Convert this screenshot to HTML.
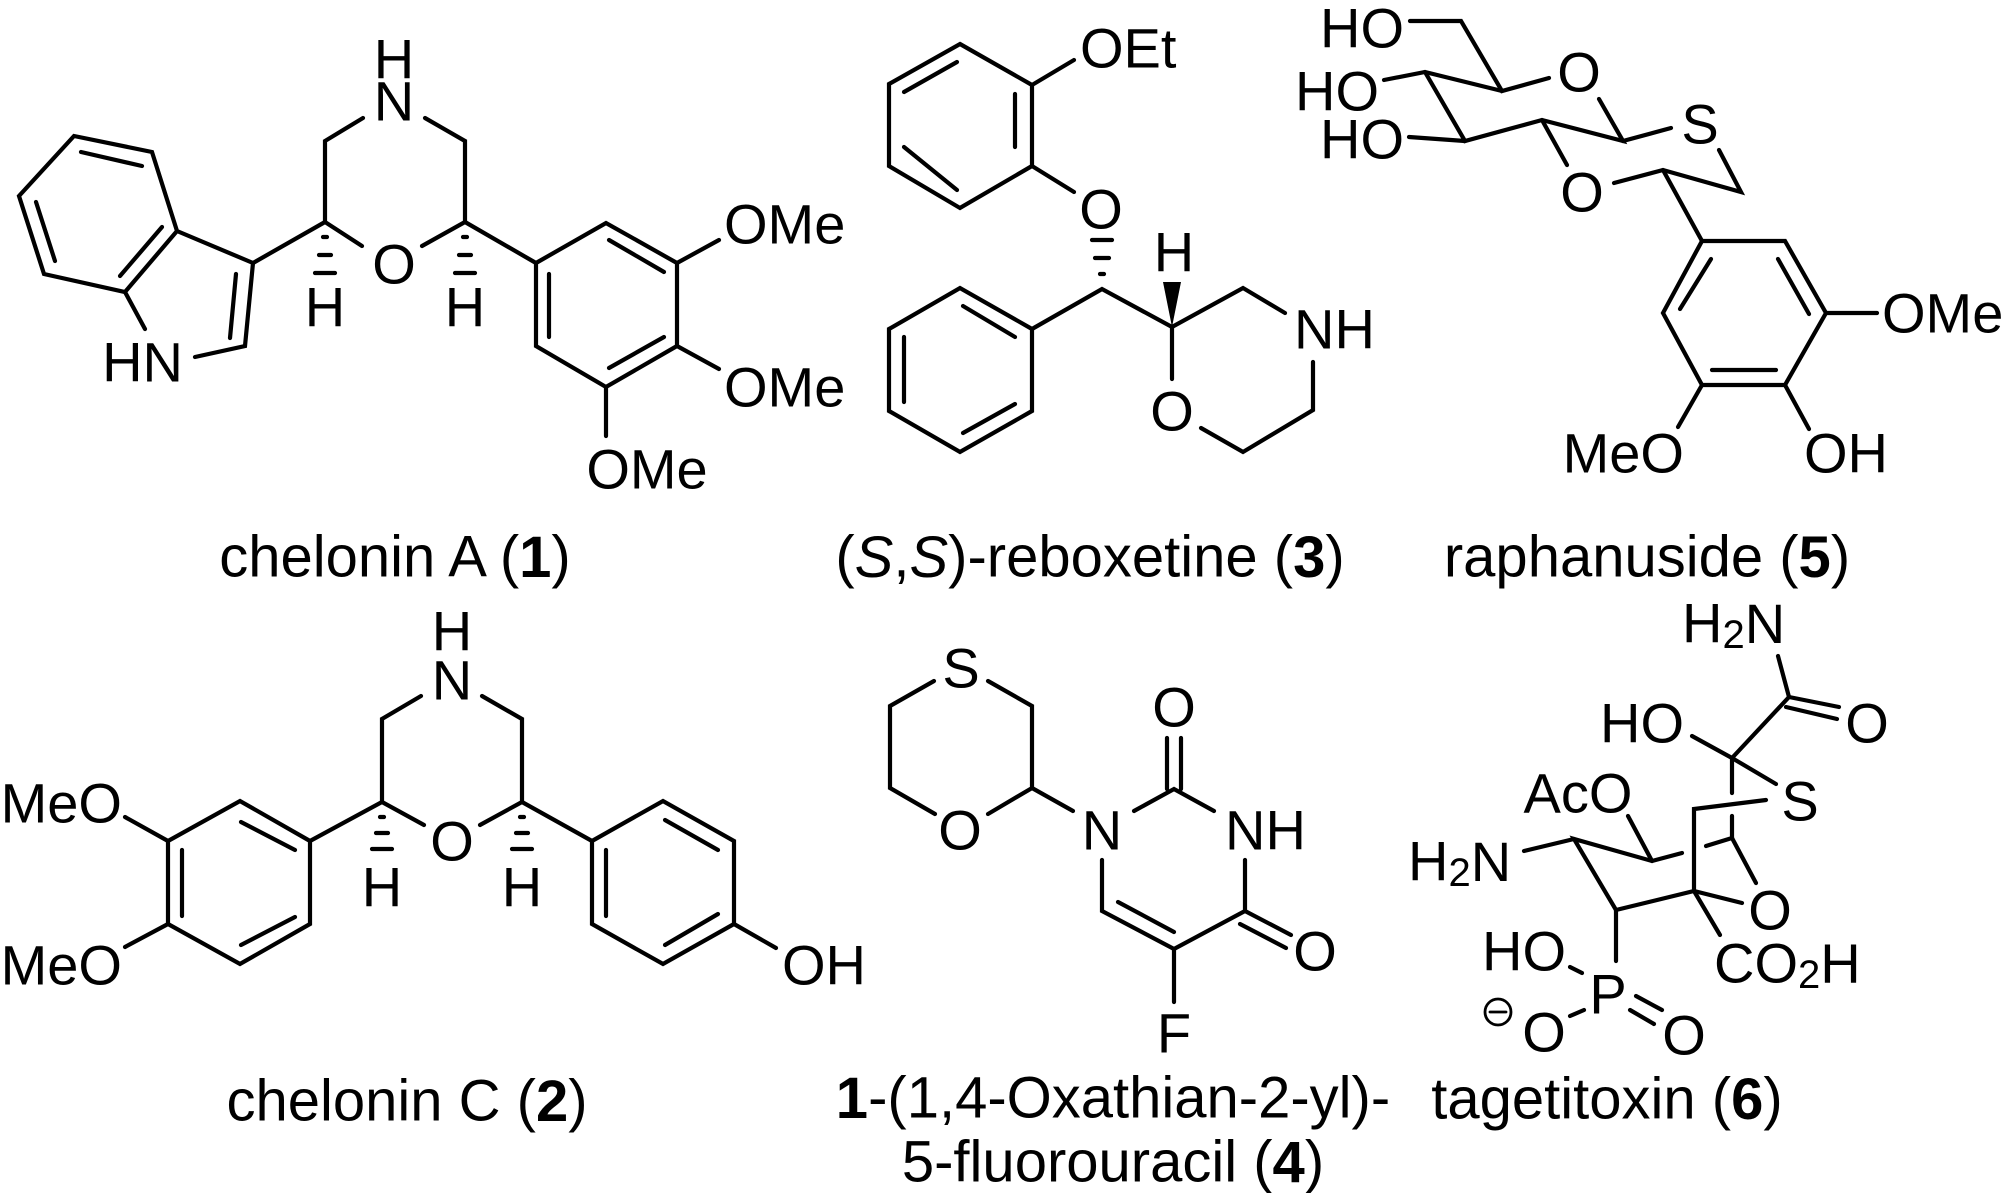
<!DOCTYPE html>
<html><head><meta charset="utf-8"><style>
html,body{margin:0;padding:0;background:#fff;}
svg{display:block;}
text{font-family:"Liberation Sans",Arial,sans-serif;fill:#000;}
.a{font-size:56px;}
.l{font-size:58px;}
</style></head><body>
<svg width="2008" height="1193" viewBox="0 0 2008 1193" xmlns="http://www.w3.org/2000/svg">
<g stroke="#000" stroke-width="4.2" fill="none" stroke-linecap="round">
<!-- Mol 1 -->
<polyline points="363,118 325,141 325,222 362,246"/>
<polyline points="422,246 465,222 465,141 425,118"/>
<line x1="325" y1="222" x2="253" y2="263"/>
<polyline points="195,357 245,346 253,263 177,231 152,152 74,136 19,196 44,274 125,292 177,231"/>
<line x1="125" y1="292" x2="145" y2="329"/>
<line x1="236" y1="274" x2="230" y2="338"/>
<line x1="120" y1="276" x2="162" y2="227"/>
<line x1="142" y1="166" x2="81" y2="152"/>
<line x1="36" y1="202" x2="55" y2="261"/>
<line x1="465" y1="222" x2="536" y2="263"/>
<polygon points="536,263 606,223 677,263 677,346 606,387 536,346"/>
<line x1="609" y1="240" x2="664" y2="272"/>
<line x1="664" y1="337" x2="609" y2="368"/>
<line x1="549" y1="274" x2="549" y2="337"/>
<line x1="677" y1="263" x2="719" y2="240"/>
<line x1="677" y1="346" x2="719" y2="369"/>
<line x1="606" y1="387" x2="606" y2="436"/>
<line x1="323" y1="237" x2="327" y2="237"/><line x1="319" y1="255" x2="331" y2="255"/><line x1="315" y1="273" x2="335" y2="273"/>
<line x1="463" y1="237" x2="467" y2="237"/><line x1="459" y1="255" x2="471" y2="255"/><line x1="455" y1="273" x2="475" y2="273"/>
<!-- Mol 3 -->
<polygon points="960,44 1032,85 1032,166 960,208 889,166 889,84"/>
<line x1="904" y1="92" x2="957" y2="62"/>
<line x1="1015" y1="94" x2="1015" y2="147"/>
<line x1="904" y1="147" x2="957" y2="190"/>
<line x1="1032" y1="85" x2="1074" y2="60"/>
<line x1="1032" y1="166" x2="1074" y2="192"/>
<line x1="1092" y1="240" x2="1112" y2="240"/><line x1="1095" y1="258" x2="1109" y2="258"/><line x1="1100" y1="274" x2="1104" y2="274"/>
<polyline points="1032,329 1102,289 1172,327 1243,288 1285,313"/>
<polygon points="1032,329 960,288 889,329 889,411 960,452 1032,411"/>
<line x1="963" y1="306" x2="1015" y2="337"/>
<line x1="904" y1="337" x2="904" y2="402"/>
<line x1="963" y1="433" x2="1015" y2="404"/>
<polyline points="1313,362 1313,410 1243,452 1201,428"/>
<line x1="1172" y1="327" x2="1172" y2="379"/>
<!-- Mol 5 -->
<polyline points="1410,21 1461,21 1502,91 1549,78"/>
<polyline points="1384,80 1425,72 1502,91"/>
<polyline points="1425,72 1465,141 1542,120 1623,141 1599,99"/>
<line x1="1409" y1="137" x2="1465" y2="141"/>
<line x1="1542" y1="120" x2="1567" y2="165"/>
<line x1="1623" y1="141" x2="1671" y2="128"/>
<polyline points="1719,150 1741,192 1663,170 1614,183"/>
<line x1="1663" y1="170" x2="1702" y2="241"/>
<polygon points="1702,241 1785,241 1826,313 1785,385 1702,385 1663,313"/>
<line x1="1778" y1="259" x2="1809" y2="314"/>
<line x1="1712" y1="370" x2="1776" y2="370"/>
<line x1="1680" y1="309" x2="1711" y2="259"/>
<line x1="1826" y1="313" x2="1877" y2="313"/>
<line x1="1785" y1="385" x2="1809" y2="429"/>
<line x1="1702" y1="385" x2="1678" y2="427"/>
<!-- Mol 2 -->
<polyline points="421,696 382,719 382,802 424,825"/>
<polyline points="480,825 522,802 522,719 482,696"/>
<line x1="380" y1="817" x2="384" y2="817"/><line x1="376" y1="833" x2="388" y2="833"/><line x1="372" y1="849" x2="392" y2="849"/>
<line x1="520" y1="817" x2="524" y2="817"/><line x1="516" y1="833" x2="528" y2="833"/><line x1="512" y1="849" x2="532" y2="849"/>
<line x1="382" y1="802" x2="310" y2="841"/>
<polygon points="310,841 240,801 168,841 168,924 240,964 310,924"/>
<line x1="241" y1="822" x2="295" y2="850"/>
<line x1="182" y1="850" x2="182" y2="916"/>
<line x1="241" y1="945" x2="295" y2="917"/>
<line x1="168" y1="841" x2="125" y2="817"/>
<line x1="168" y1="924" x2="125" y2="947"/>
<line x1="522" y1="802" x2="592" y2="841"/>
<polygon points="592,841 663,801 734,841 734,924 663,964 592,924"/>
<line x1="665" y1="820" x2="718" y2="850"/>
<line x1="718" y1="914" x2="665" y2="945"/>
<line x1="606" y1="850" x2="606" y2="916"/>
<line x1="734" y1="924" x2="776" y2="948"/>
<!-- Mol 4 -->
<polyline points="934,681 890,706 890,788 935,814"/>
<polyline points="988,814 1032,788 1032,706 988,681"/>
<line x1="1032" y1="788" x2="1073" y2="811"/>
<polyline points="1134,811 1174,789 1214,811"/>
<line x1="1167" y1="789" x2="1167" y2="738"/>
<line x1="1181" y1="789" x2="1181" y2="738"/>
<polyline points="1245,860 1245,911 1174,949 1102,911 1102,860"/>
<line x1="1118" y1="902" x2="1174" y2="932"/>
<line x1="1245" y1="911" x2="1291" y2="935"/>
<line x1="1240" y1="924" x2="1286" y2="948"/>
<line x1="1174" y1="949" x2="1174" y2="1002"/>
<!-- Mol 6 -->
<line x1="1778" y1="656" x2="1789" y2="697"/>
<line x1="1789" y1="697" x2="1839" y2="707"/>
<line x1="1786" y1="707" x2="1837" y2="719"/>
<line x1="1789" y1="697" x2="1732" y2="758"/>
<line x1="1692" y1="736" x2="1732" y2="758"/>
<line x1="1732" y1="758" x2="1776" y2="784"/>
<line x1="1732" y1="758" x2="1732" y2="793"/>
<polyline points="1766,800 1694,809 1694,891"/>
<line x1="1732" y1="816" x2="1732" y2="838"/>
<line x1="1732" y1="838" x2="1706" y2="846"/>
<line x1="1732" y1="838" x2="1756" y2="883"/>
<line x1="1742" y1="903" x2="1694" y2="891"/>
<line x1="1694" y1="891" x2="1720" y2="935"/>
<polyline points="1694,891 1616,910 1574,839 1652,861 1682,853"/>
<line x1="1574" y1="839" x2="1524" y2="851"/>
<line x1="1652" y1="861" x2="1628" y2="816"/>
<line x1="1616" y1="910" x2="1616" y2="961"/>
<line x1="1570" y1="967" x2="1582" y2="973"/>
<line x1="1570" y1="1016" x2="1584" y2="1010"/>
<line x1="1636" y1="996" x2="1662" y2="1010"/>
<line x1="1630" y1="1010" x2="1654" y2="1024"/>
<circle cx="1498" cy="1012" r="13" stroke-width="2.8"/>
<line x1="1490" y1="1012" x2="1506" y2="1012" stroke-width="2.8"/>
</g>
<polygon points="1172,327 1163,282 1181,282" fill="#000"/>
<g class="a" text-anchor="middle" dominant-baseline="central">
<!-- mol1 -->
<text x="394" y="59">H</text><text x="394" y="101">N</text><text x="394" y="264">O</text>
<text x="325" y="307">H</text><text x="465" y="307">H</text>
<text x="183" y="362" text-anchor="end">HN</text>
<text x="724" y="224" text-anchor="start">OMe</text>
<text x="724" y="387" text-anchor="start">OMe</text>
<text x="647" y="469">OMe</text>
<!-- mol3 -->
<text x="1080" y="48" text-anchor="start">OEt</text>
<text x="1101" y="209">O</text>
<text x="1174" y="252">H</text>
<text x="1294" y="329" text-anchor="start">NH</text>
<text x="1172" y="411">O</text>
<!-- mol5 -->
<text x="1404" y="28" text-anchor="end">HO</text>
<text x="1379" y="91" text-anchor="end">HO</text>
<text x="1404" y="139" text-anchor="end">HO</text>
<text x="1579" y="72">O</text>
<text x="1582" y="192">O</text>
<text x="1700" y="124">S</text>
<text x="1882" y="313" text-anchor="start">OMe</text>
<text x="1684" y="453" text-anchor="end">MeO</text>
<text x="1804" y="453" text-anchor="start">OH</text>
<!-- mol2 -->
<text x="452" y="631">H</text><text x="452" y="680">N</text><text x="452" y="841">O</text>
<text x="382" y="887">H</text><text x="522" y="887">H</text>
<text x="122" y="803" text-anchor="end">MeO</text>
<text x="122" y="965" text-anchor="end">MeO</text>
<text x="782" y="965" text-anchor="start">OH</text>
<!-- mol4 -->
<text x="961" y="668">S</text><text x="960" y="830">O</text>
<text x="1102" y="830">N</text>
<text x="1225" y="830" text-anchor="start">NH</text>
<text x="1174" y="707">O</text>
<text x="1315" y="951">O</text>
<text x="1174" y="1033">F</text>
<!-- mol6 -->
<text x="1682" y="623" text-anchor="start">H<tspan font-size="40" dy="12">2</tspan><tspan dy="-12">N</tspan></text>
<text x="1867" y="723">O</text>
<text x="1642" y="723">HO</text>
<text x="1800" y="801">S</text>
<text x="1578" y="793">AcO</text>
<text x="1408" y="861" text-anchor="start">H<tspan font-size="40" dy="12">2</tspan><tspan dy="-12">N</tspan></text>
<text x="1770" y="910">O</text>
<text x="1714" y="963" text-anchor="start">CO<tspan font-size="40" dy="12">2</tspan><tspan dy="-12">H</tspan></text>
<text x="1524" y="951">HO</text>
<text x="1608" y="994">P</text>
<text x="1544" y="1032">O</text>
<text x="1684" y="1035">O</text>
</g>
<g class="l" text-anchor="middle" dominant-baseline="central">
<text x="395" y="557">chelonin A (<tspan font-weight="bold">1</tspan>)</text>
<text x="1090" y="557">(<tspan font-style="italic">S</tspan>,<tspan font-style="italic">S</tspan>)-reboxetine (<tspan font-weight="bold">3</tspan>)</text>
<text x="1647" y="557">raphanuside (<tspan font-weight="bold">5</tspan>)</text>
<text x="407" y="1101">chelonin C (<tspan font-weight="bold">2</tspan>)</text>
<text x="1113" y="1098"><tspan font-weight="bold">1</tspan>-(1,4-Oxathian-2-yl)-</text>
<text x="1113" y="1162">5-fluorouracil (<tspan font-weight="bold">4</tspan>)</text>
<text x="1607" y="1099">tagetitoxin (<tspan font-weight="bold">6</tspan>)</text>
</g>
</svg>
</body></html>
